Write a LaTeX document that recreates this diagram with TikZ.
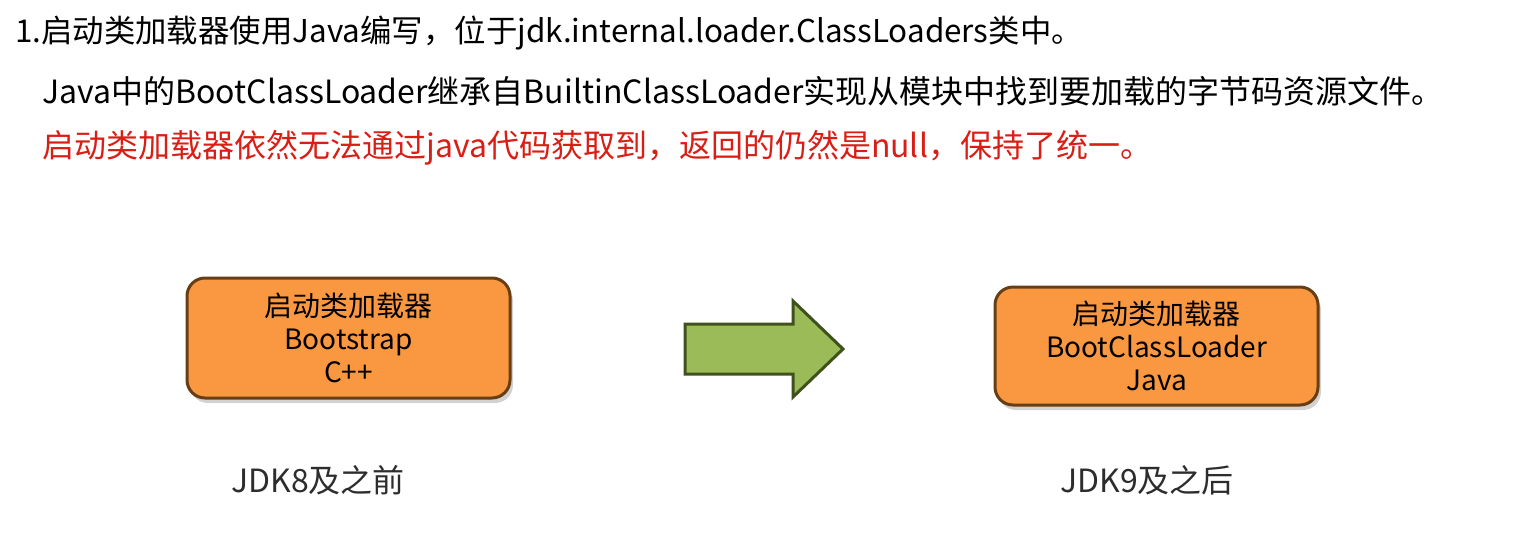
\documentclass[tikz,border=0pt]{standalone}
\usepackage{fontspec}
\setmainfont{Noto Sans CJK SC}
\usetikzlibrary{shadows}
\definecolor{boxfill}{RGB}{249,152,64}
\definecolor{boxdraw}{RGB}{104,62,20}
\definecolor{arrfill}{RGB}{155,187,89}
\definecolor{arrdraw}{RGB}{64,82,28}
\definecolor{redtxt}{RGB}{218,30,22}
\definecolor{labtxt}{RGB}{45,45,45}
\tikzset{
  line/.style={anchor=west,inner sep=0pt,font=\fontsize{32}{38}\selectfont},
  loaderbox/.style={draw=boxdraw,line width=3pt,fill=boxfill,rounded corners=18pt,
    drop shadow={opacity=0.35,shadow xshift=3pt,shadow yshift=-5pt}},
  boxtext/.style={align=center,inner sep=0pt,font=\fontsize{28}{33}\selectfont},
  caption/.style={inner sep=0pt,text=labtxt,font=\fontsize{32}{38}\selectfont},
  bigarrow/.style={draw=arrdraw,line width=3pt,fill=arrfill,line join=miter}
}
\begin{document}
\begin{tikzpicture}[x=1pt,y=-1pt]
\useasboundingbox (0,0) rectangle (1517,533);
\fill[white] (0,0) rectangle (1517,533);
\node[line,font=\fontsize{31.4}{38}\selectfont] (l1) at (15,33) {1.启动类加载器使用Java编写，位于jdk.internal.loader.ClassLoaders类中。};
\node[line] (l2) at (42,91) {Java中的BootClassLoader继承自BuiltinClassLoader实现从模块中找到要加载的字节码资源文件。};
\node[line,text=redtxt] (l3) at (42,148) {启动类加载器依然无法通过java代码获取到，返回的仍然是null，保持了统一。};
\path[loaderbox] (187,278) rectangle (510,398);
\node[boxtext] (b1) at (348.5,338) {启动类加载器\\Bootstrap\\C++};
\path[loaderbox] (995,287) rectangle (1318,405);
\node[boxtext] (b2) at (1156.5,346) {启动类加载器\\BootClassLoader\\Java};
\draw[bigarrow] (685,324) -- (793,324) -- (793,301) -- (843,349) -- (793,397) -- (793,374) -- (685,374) -- cycle;
\node[caption] (c1) at (318,480) {JDK8及之前};
\node[caption] (c2) at (1147,480) {JDK9及之后};
\end{tikzpicture}
\end{document}
